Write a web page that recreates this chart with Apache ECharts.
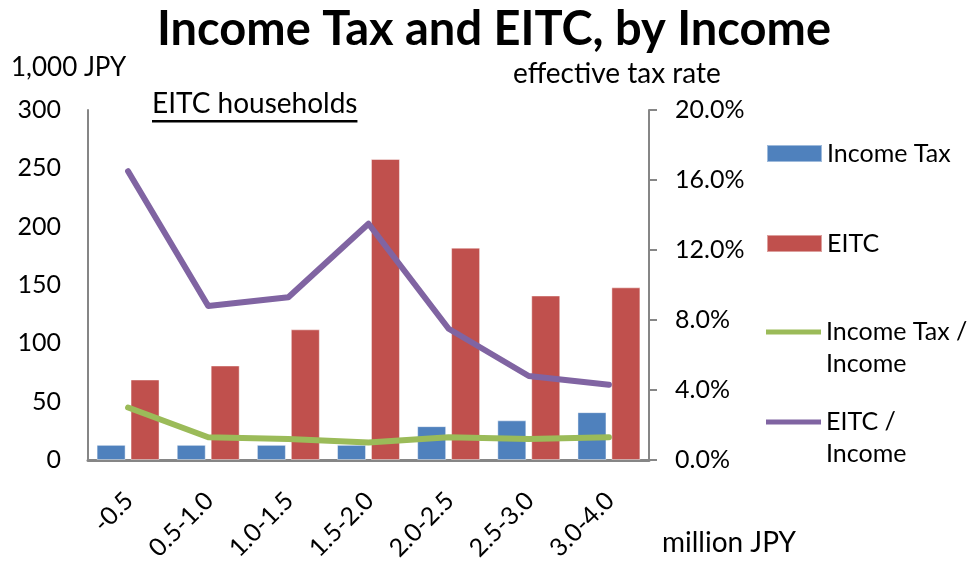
<!DOCTYPE html>
<html>
<head>
<meta charset="utf-8">
<script src="https://cdn.jsdelivr.net/npm/echarts@6/dist/echarts.min.js"></script>
<style>
  html, body { margin: 0; padding: 0; background: #fff; }
  #chart { width: 973px; height: 563px; }
</style>
</head>
<body>
<div id="chart"></div>
<script>
// Income brackets (million JPY)
const categories = ['-0.5', '0.5-1.0', '1.0-1.5', '1.5-2.0', '2.0-2.5', '2.5-3.0', '3.0-4.0'];
// Amounts per household, 1,000 JPY
const incomeTax = [13, 13, 13, 13, 29, 34, 41];
const eitc = [69, 81, 112, 258, 182, 141, 148];
// Ratios to income (fractions)
const incomeTaxRate = [0.030, 0.013, 0.012, 0.010, 0.013, 0.012, 0.013];
const eitcRate = [0.165, 0.088, 0.093, 0.135, 0.075, 0.048, 0.043];
// Axis scales
const leftAxisTicks = [0, 50, 100, 150, 200, 250, 300];
const rightAxisTicks = [0, 0.04, 0.08, 0.12, 0.16, 0.20];

const FONT = 'Lato';
const AXIS_GREY = '#868686';

const chart = echarts.init(document.getElementById('chart'), null, { renderer: 'canvas' });

// width of the subtitle, used to size its underline
const measure = document.createElement('canvas').getContext('2d');
measure.font = '28px ' + FONT;
const subtitle = 'EITC households';
const subtitleWidth = measure.measureText(subtitle).width;

const legendText = { fontFamily: FONT, fontSize: 25, color: '#000' };
// two-line names: a blank leading line keeps the first line level with the icon
const legendTextTwoLines = Object.assign({}, legendText, { lineHeight: 32 });

function legendBlock(name, top, opts) {
  return Object.assign({
    data: [name],
    left: 766,
    top: top,
    orient: 'vertical',
    padding: 0,
    itemWidth: 55,
    itemHeight: 17,
    icon: 'rect',
    selectedMode: false,
    textStyle: legendText
  }, opts || {});
}

const option = {
  backgroundColor: '#fff',
  animation: false,
  title: {
    text: 'Income Tax and EITC, by Income',
    left: 152,
    top: 1,
    textStyle: { fontFamily: FONT, fontSize: 47, fontWeight: 'bold', color: '#000' }
  },
  grid: { left: 88, right: 324, top: 110, bottom: 103, containLabel: false, outerBoundsMode: 'none' },
  xAxis: {
    type: 'category',
    data: categories,
    boundaryGap: true,
    axisLine: { show: true, lineStyle: { color: AXIS_GREY, width: 3 } },
    axisTick: { show: false },
    axisLabel: {
      rotate: 45,
      margin: 20,
      verticalAlign: 'top',
      align: 'right',
      padding: [0, 11, 0, 0],
      fontFamily: FONT,
      fontSize: 25,
      color: '#000'
    }
  },
  yAxis: [
    {
      type: 'value',
      min: leftAxisTicks[0],
      max: leftAxisTicks[leftAxisTicks.length - 1],
      interval: leftAxisTicks[1] - leftAxisTicks[0],
      axisLine: { show: true, lineStyle: { color: AXIS_GREY, width: 2 } },
      axisTick: { show: false },
      splitLine: { show: false },
      axisLabel: { margin: 27, fontFamily: FONT, fontSize: 25, color: '#000' }
    },
    {
      type: 'value',
      position: 'right',
      min: rightAxisTicks[0],
      max: rightAxisTicks[rightAxisTicks.length - 1],
      interval: rightAxisTicks[1] - rightAxisTicks[0],
      axisLine: { show: true, lineStyle: { color: AXIS_GREY, width: 2 } },
      axisTick: { show: true, inside: false, length: 8, lineStyle: { color: AXIS_GREY, width: 2 } },
      splitLine: { show: false },
      axisLabel: {
        margin: 26,
        fontFamily: FONT,
        fontSize: 25,
        color: '#000',
        formatter: v => (v * 100).toFixed(1) + '%'
      }
    }
  ],
  legend: [
    legendBlock('Income Tax', 141),
    legendBlock('EITC', 231),
    legendBlock('Income Tax / Income', 284, {
      itemHeight: 5,
      formatter: () => ' \nIncome Tax /\nIncome',
      textStyle: legendTextTwoLines
    }),
    legendBlock('EITC / Income', 374, {
      itemHeight: 5,
      formatter: () => ' \nEITC /\nIncome',
      textStyle: legendTextTwoLines
    })
  ],
  graphic: [
    {
      type: 'text', left: 11, top: 55,
      style: { text: '1,000 JPY', font: '26px ' + FONT, fill: '#000' }
    },
    {
      type: 'text', left: 513, top: 60,
      style: { text: 'effective tax rate', font: '28px ' + FONT, fill: '#000' }
    },
    {
      type: 'group', left: 152, top: 90,
      children: [
        { type: 'text', x: 0, y: 0, style: { text: subtitle, font: '28px ' + FONT, fill: '#000' } },
        { type: 'rect', shape: { x: 0, y: 30, width: subtitleWidth, height: 2.5 }, style: { fill: '#000' } }
      ]
    },
    {
      type: 'text', left: 662, top: 529,
      style: { text: 'million JPY', font: '28px ' + FONT, fill: '#000' }
    }
  ],
  series: [
    {
      name: 'Income Tax',
      type: 'bar',
      data: incomeTax,
      barWidth: 29,
      barGap: '17%',
      itemStyle: { color: '#4F81BD', borderColor: 'rgba(255,255,255,0.45)', borderWidth: 1 }
    },
    {
      name: 'EITC',
      type: 'bar',
      data: eitc,
      barWidth: 29,
      itemStyle: { color: '#C0504D', borderColor: 'rgba(255,255,255,0.45)', borderWidth: 1 }
    },
    {
      name: 'Income Tax / Income',
      type: 'line',
      yAxisIndex: 1,
      data: incomeTaxRate,
      symbol: 'none',
      itemStyle: { color: '#9BBB59' },
      lineStyle: { color: '#9BBB59', width: 6, cap: 'round', join: 'round' }
    },
    {
      name: 'EITC / Income',
      type: 'line',
      yAxisIndex: 1,
      data: eitcRate,
      symbol: 'none',
      itemStyle: { color: '#8064A2' },
      lineStyle: { color: '#8064A2', width: 6, cap: 'round', join: 'round' }
    }
  ]
};

chart.setOption(option);
</script>
</body>
</html>
